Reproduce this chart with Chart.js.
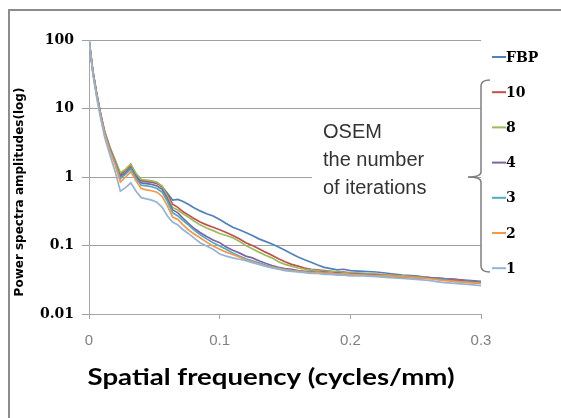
<!DOCTYPE html>
<html>
<head>
<meta charset="utf-8">
<script src="https://cdn.jsdelivr.net/npm/chart.js@4/dist/chart.umd.min.js"></script>
<style>
  body { margin: 0; background: #fff; }
  #wrap { width: 561px; height: 418px; }
</style>
</head>
<body>
<div id="wrap"><canvas id="psChart" width="561" height="418"></canvas></div>
<script>
// spatial frequency (cycles/mm)
const freq = [0, 0.003, 0.006, 0.009, 0.012, 0.016, 0.02, 0.024, 0.028, 0.032,
  0.036, 0.04, 0.044, 0.048, 0.052, 0.056, 0.06, 0.064, 0.068, 0.072,
  0.076, 0.08, 0.085, 0.09, 0.095, 0.1, 0.105, 0.11, 0.115, 0.12,
  0.125, 0.13, 0.135, 0.14, 0.145, 0.15, 0.155, 0.16, 0.165, 0.17,
  0.175, 0.18, 0.185, 0.19, 0.195, 0.2, 0.21, 0.22, 0.23, 0.24,
  0.25, 0.26, 0.27, 0.28, 0.29, 0.3]

const fbp = [100, 34, 16, 8, 4.4, 2.5, 1.6, 1.05, 1.15, 1.4,
  1.05, 0.88, 0.85, 0.84, 0.8, 0.72, 0.58, 0.46, 0.47, 0.44,
  0.40, 0.36, 0.32, 0.29, 0.27, 0.24, 0.21, 0.185, 0.17, 0.155,
  0.14, 0.125, 0.115, 0.105, 0.095, 0.085, 0.076, 0.068, 0.062, 0.057,
  0.052, 0.048, 0.046, 0.044, 0.045, 0.043, 0.042, 0.041, 0.039, 0.037,
  0.036, 0.034, 0.033, 0.032, 0.031, 0.030]
const it10 = [100, 35, 16, 8.2, 4.6, 2.7, 1.75, 1.1, 1.25, 1.5,
  1.1, 0.9, 0.88, 0.86, 0.82, 0.72, 0.55, 0.4, 0.36, 0.31,
  0.28, 0.25, 0.22, 0.2, 0.185, 0.17, 0.155, 0.14, 0.125, 0.11,
  0.1, 0.09, 0.08, 0.072, 0.064, 0.058, 0.053, 0.05, 0.047, 0.045,
  0.044, 0.043, 0.042, 0.041, 0.041, 0.04, 0.039, 0.038, 0.037, 0.036,
  0.035, 0.034, 0.033, 0.032, 0.03, 0.029]
const it8 = [100, 35, 16, 8.2, 4.6, 2.7, 1.75, 1.15, 1.3, 1.55,
  1.12, 0.92, 0.9, 0.88, 0.84, 0.74, 0.52, 0.36, 0.33, 0.29,
  0.26, 0.23, 0.2, 0.18, 0.165, 0.15, 0.14, 0.13, 0.115, 0.1,
  0.09, 0.08, 0.072, 0.066, 0.058, 0.053, 0.05, 0.047, 0.045, 0.044,
  0.043, 0.042, 0.042, 0.041, 0.04, 0.04, 0.039, 0.038, 0.037, 0.036,
  0.035, 0.034, 0.033, 0.031, 0.03, 0.029]
const it4 = [100, 34, 15.5, 8, 4.4, 2.6, 1.65, 1.0, 1.15, 1.35,
  1.0, 0.82, 0.8, 0.78, 0.74, 0.66, 0.48, 0.33, 0.3, 0.25,
  0.21, 0.18, 0.155, 0.135, 0.12, 0.11, 0.095, 0.085, 0.078, 0.07,
  0.066, 0.06, 0.055, 0.051, 0.048, 0.046, 0.045, 0.043, 0.042, 0.042,
  0.041, 0.041, 0.04, 0.04, 0.039, 0.039, 0.038, 0.037, 0.036, 0.035,
  0.034, 0.034, 0.033, 0.031, 0.03, 0.029]
const it3 = [100, 34, 15.5, 7.8, 4.3, 2.5, 1.6, 0.95, 1.1, 1.3,
  0.95, 0.76, 0.74, 0.72, 0.68, 0.6, 0.44, 0.3, 0.27, 0.23,
  0.2, 0.17, 0.145, 0.125, 0.11, 0.098, 0.088, 0.078, 0.07, 0.064,
  0.06, 0.056, 0.052, 0.049, 0.047, 0.045, 0.043, 0.042, 0.041, 0.041,
  0.04, 0.04, 0.039, 0.039, 0.038, 0.038, 0.037, 0.036, 0.035, 0.034,
  0.034, 0.033, 0.032, 0.03, 0.029, 0.028]
const it2 = [100, 33, 15, 7.6, 4.2, 2.4, 1.5, 0.85, 1.0, 1.2,
  0.88, 0.68, 0.65, 0.63, 0.6, 0.52, 0.38, 0.26, 0.24, 0.2,
  0.17, 0.15, 0.13, 0.112, 0.098, 0.088, 0.08, 0.074, 0.068, 0.062,
  0.058, 0.054, 0.05, 0.048, 0.046, 0.044, 0.043, 0.042, 0.041, 0.04,
  0.041, 0.039, 0.04, 0.038, 0.039, 0.038, 0.037, 0.036, 0.036, 0.035,
  0.034, 0.033, 0.031, 0.03, 0.029, 0.028]
const it1 = [100, 32, 14, 7, 3.8, 2.1, 1.2, 0.62, 0.7, 0.82,
  0.62, 0.5, 0.48, 0.46, 0.43, 0.36, 0.27, 0.22, 0.2, 0.17,
  0.15, 0.13, 0.11, 0.098, 0.088, 0.075, 0.07, 0.066, 0.063, 0.06,
  0.056, 0.053, 0.05, 0.047, 0.045, 0.043, 0.042, 0.041, 0.04, 0.039,
  0.039, 0.038, 0.038, 0.037, 0.037, 0.036, 0.036, 0.035, 0.034, 0.033,
  0.032, 0.031, 0.029, 0.028, 0.027, 0.026]

const seriesNames = ['FBP', '10', '8', '4', '3', '2', '1']
const seriesData = [fbp, it10, it8, it4, it3, it2, it1]
const seriesColors = ['#4F81BD', '#C0504D', '#9BBB59', '#8064A2', '#4BACC6', '#F79646', '#95B3D7']

const xTickValues = [0, 0.1, 0.2, 0.3]
const xTickLabels = ['0', '0.1', '0.2', '0.3']
const yTickValues = [0.01, 0.1, 1, 10, 100]
const yTickLabels = ['0.01', '0.1', '1', '10', '100']

const xTitle = 'Spatial frequency (cycles/mm)'
const yTitle = 'Power spectra amplitudes(log)'
const noteLines = ['OSEM', 'the number', 'of iterations']

const datasets = seriesNames.map((name, i) => ({
  label: name,
  data: freq.map((f, j) => ({ x: f, y: seriesData[i][j] })),
  showLine: true,
  borderColor: seriesColors[i],
  backgroundColor: seriesColors[i],
  borderWidth: 1.7,
  pointRadius: 0,
  tension: 0,
  order: seriesNames.length - i
}))

// frame, note box, bracket, legend and axis titles
const decorations = {
  id: 'decorations',
  afterDraw(chart) {
    const ctx = chart.ctx
    const area = chart.chartArea
    ctx.save()

    // outer frame (only top and left visible)
    ctx.strokeStyle = '#8c8c8c'
    ctx.lineWidth = 2
    ctx.beginPath()
    ctx.moveTo(9, 430)
    ctx.lineTo(9, 10)
    ctx.lineTo(570, 10)
    ctx.stroke()

    // white note box hiding the gridline
    ctx.fillStyle = '#fff'
    ctx.fillRect(312, 117, 156, 84)
    ctx.fillStyle = '#333'
    ctx.font = '20px "Liberation Sans", Arial, sans-serif'
    ctx.textBaseline = 'middle'
    ctx.textAlign = 'left'
    noteLines.forEach((t, i) => ctx.fillText(t, 323, 132 + i * 28))

    // curly bracket
    const bx = area.right
    ctx.strokeStyle = '#7f7f7f'
    ctx.lineWidth = 1.5
    ctx.beginPath()
    ctx.moveTo(490, 80)
    ctx.quadraticCurveTo(bx, 80, bx, 86)
    ctx.lineTo(bx, 172)
    ctx.quadraticCurveTo(bx, 177, 468, 177)
    ctx.quadraticCurveTo(bx, 177, bx, 182)
    ctx.lineTo(bx, 266)
    ctx.quadraticCurveTo(bx, 272, 490, 272)
    ctx.stroke()

    // legend
    ctx.font = 'bold 14px "DejaVu Serif", serif'
    ctx.textBaseline = 'middle'
    seriesNames.forEach((name, i) => {
      const y = 57 + i * 35.2
      ctx.strokeStyle = seriesColors[i]
      ctx.lineWidth = 2
      ctx.beginPath()
      ctx.moveTo(492, y)
      ctx.lineTo(506, y)
      ctx.stroke()
      ctx.fillStyle = '#000'
      ctx.fillText(name, 506, y + 1)
    })

    // x title, stretched a little like the original
    ctx.save()
    ctx.fillStyle = '#000'
    ctx.font = 'bold 23px Lato, "Open Sans", sans-serif'
    ctx.textAlign = 'center'
    ctx.translate(271, 378)
    ctx.scale(1.2, 1)
    ctx.fillText(xTitle, 0, 0, 306)
    ctx.restore()

    // y title
    ctx.fillStyle = '#000'
    ctx.textAlign = 'center'
    ctx.translate(20, 192)
    ctx.rotate(-Math.PI / 2)
    ctx.font = 'bold 12px "DejaVu Sans", sans-serif'
    ctx.fillText(yTitle, 0, 0, 225)
    ctx.restore()
  }
}

const myChart = new Chart(document.getElementById('psChart'), {
  type: 'scatter',
  data: { datasets: datasets },
  options: {
    animation: false,
    responsive: false,
    layout: { padding: { left: 0, top: 40, right: 80, bottom: 0 } },
    plugins: { legend: { display: false }, tooltip: { enabled: false } },
    scales: {
      x: {
        type: 'linear',
        min: 0,
        max: 0.3,
        afterBuildTicks: (s) => { s.ticks = xTickValues.map(v => ({ value: v })) },
        afterFit: (s) => { s.height = 104 },
        ticks: {
          callback: (v, i) => xTickLabels[i],
          color: '#808080',
          font: { family: '"Liberation Sans", Arial, sans-serif', size: 15 },
          padding: 13,
          maxRotation: 0
        },
        grid: { drawOnChartArea: false, drawTicks: true, tickLength: 5, tickColor: '#a6a6a6' },
        border: { color: '#a6a6a6', width: 1 }
      },
      y: {
        type: 'logarithmic',
        min: 0.01,
        max: 100,
        afterBuildTicks: (s) => { s.ticks = yTickValues.map(v => ({ value: v })) },
        afterFit: (s) => { s.width = 89 },
        ticks: {
          callback: (v, i) => yTickLabels[i],
          color: '#000',
          font: { family: '"DejaVu Serif", serif', size: 14, weight: 'bold' },
          padding: 8
        },
        grid: { color: '#a0a0a0', lineWidth: 1, tickLength: 7 },
        border: { color: '#a6a6a6', width: 1 }
      }
    }
  },
  plugins: [decorations]
});
</script>
</body>
</html>
